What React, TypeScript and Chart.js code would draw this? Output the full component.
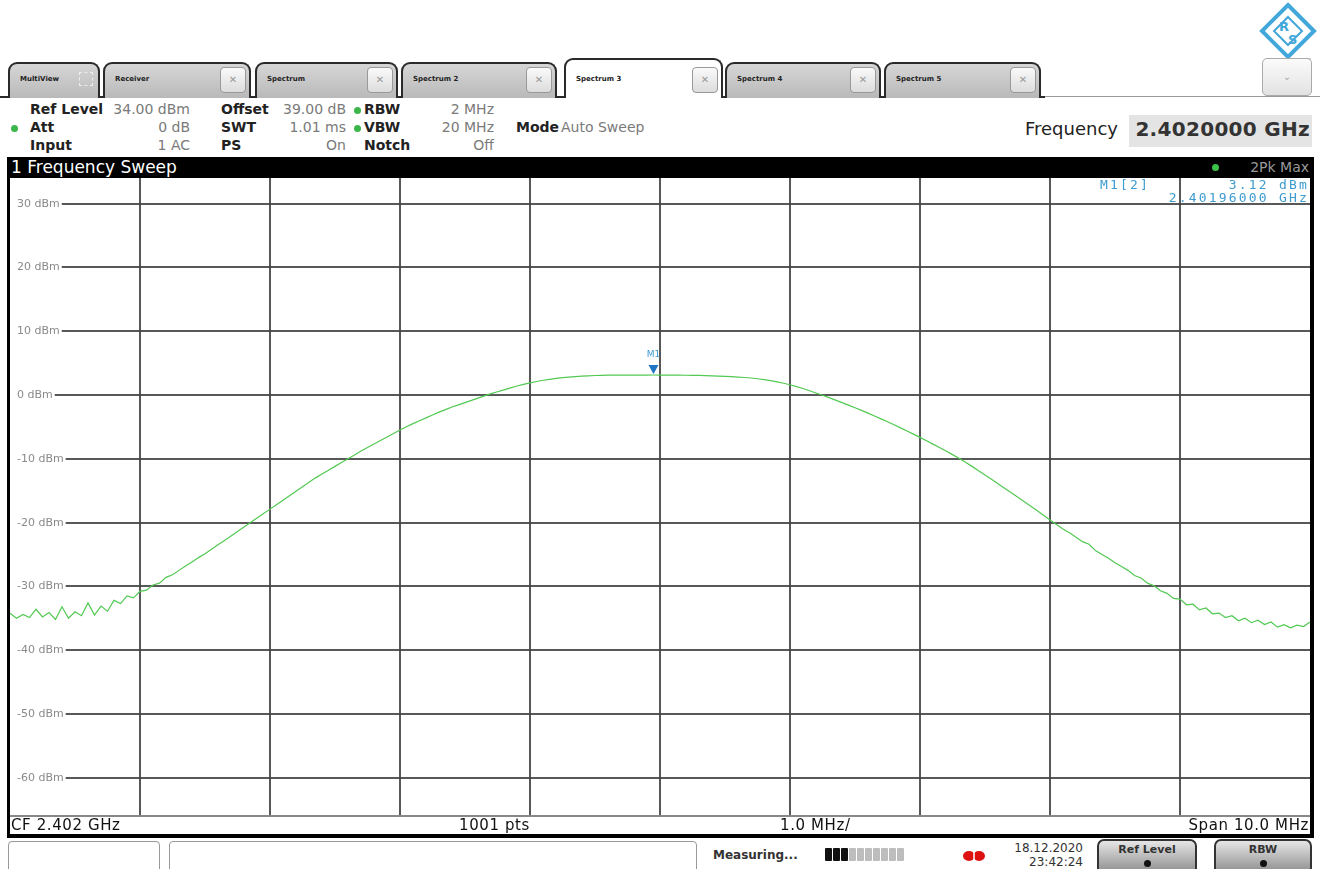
import React, { useEffect, useRef } from "react";
import { Chart, registerables } from "chart.js";

Chart.register(...registerables);

// ---- data ----
const startMHz = 2397; // CF 2.402 GHz, span 10 MHz
const stepMHz = 0.05;
const levelDbm = [
  -34.2, -35.0, -34.4, -34.9, -33.6, -34.8, -34.1, -35.2, -33.2, -35.0,
  -34.0, -34.6, -32.6, -34.5, -33.1, -33.9, -32.2, -32.7, -31.5, -31.8,
  -30.8, -30.6, -29.8, -29.5, -28.6, -28.2, -27.5, -26.8, -26.2, -25.5,
  -24.9, -24.2, -23.5, -22.8, -22.1, -21.4, -20.7, -20.0, -19.3, -18.6,
  -17.9, -17.2, -16.5, -15.8, -15.1, -14.4, -13.7, -13.0, -12.4, -11.8,
  -11.2, -10.6, -10.0, -9.4, -8.8, -8.25, -7.7, -7.15, -6.6, -6.05,
  -5.5, -5.0, -4.5, -4.05, -3.6, -3.15, -2.7, -2.3, -1.9, -1.55,
  -1.2, -0.85, -0.5, -0.15, 0.2, 0.5, 0.8, 1.1, 1.4, 1.65,
  1.9, 2.1, 2.3, 2.45, 2.6, 2.7, 2.8, 2.88, 2.95, 3.0,
  3.04, 3.07, 3.09, 3.1, 3.1, 3.11, 3.11, 3.11, 3.11, 3.12,
  3.11, 3.11, 3.1, 3.09, 3.08, 3.06, 3.05, 3.02, 3.0, 2.96,
  2.92, 2.86, 2.8, 2.73, 2.65, 2.53, 2.4, 2.23, 2.05, 1.83,
  1.6, 1.3, 1.0, 0.65, 0.3, -0.05, -0.43, -0.81, -1.2, -1.6,
  -2.01, -2.43, -2.86, -3.3, -3.75, -4.21, -4.68, -5.16, -5.65, -6.15,
  -6.66, -7.18, -7.71, -8.25, -8.8, -9.36, -9.93, -10.55, -11.2, -11.87,
  -12.55, -13.23, -13.92, -14.61, -15.3, -16.0, -16.7, -17.4, -18.1, -18.85,
  -19.6, -20.3, -21.0, -21.6, -22.3, -23.0, -23.4, -24.4, -25.0, -25.6,
  -26.3, -26.9, -27.5, -28.3, -28.7, -29.5, -29.9, -30.7, -31.1, -31.9,
  -32.0, -32.9, -32.8, -33.7, -33.4, -34.3, -34.2, -34.9, -34.6, -35.4,
  -35.0, -35.7, -35.3, -36.0, -35.6, -36.4, -36.0, -36.5, -36.1, -36.3,
  -35.6,
];
const yMin = -66;
const yMax = 34;
const yTicks = [30, 20, 10, 0, -10, -20, -30, -40, -50, -60];
const xTicks = [2398, 2399, 2400, 2401, 2402, 2403, 2404, 2405, 2406];
const markerIndex = 99;
const markerName = "M1";

const tabs = [
  { label: "MultiView", left: 8, width: 92, close: false, active: false },
  { label: "Receiver", left: 103, width: 148, close: true, active: false },
  { label: "Spectrum", left: 255, width: 143, close: true, active: false },
  { label: "Spectrum 2", left: 401, width: 156, close: true, active: false },
  { label: "Spectrum 3", left: 564, width: 159, close: true, active: true },
  { label: "Spectrum 4", left: 725, width: 156, close: true, active: false },
  { label: "Spectrum 5", left: 884, width: 157, close: true, active: false },
];

const SANS = '"DejaVu Sans", Verdana, sans-serif';
const MONO = '"DejaVu Sans Mono", monospace';
const BLUE = "#3d9bd0";

const saPlugin = {
  id: "saGrid",
  beforeDatasetsDraw(chart: any) {
    const { ctx, chartArea: a, scales } = chart;
    const x = scales.x;
    const y = scales.y;
    ctx.save();
    ctx.strokeStyle = "rgba(70,70,70,0.9)";
    ctx.lineWidth = 2;
    for (const v of xTicks) {
      const px = Math.round(x.getPixelForValue(v));
      ctx.beginPath();
      ctx.moveTo(px, a.top);
      ctx.lineTo(px, a.bottom);
      ctx.stroke();
    }
    ctx.font = `11px ${SANS}`;
    ctx.textBaseline = "middle";
    ctx.fillStyle = "#8a8a8a";
    for (const v of yTicks) {
      const py = Math.round(y.getPixelForValue(v));
      const label = `${v} dBm`;
      const tx = a.left + 7;
      ctx.fillText(label, tx, py);
      const w = ctx.measureText(label).width;
      ctx.beginPath();
      ctx.moveTo(tx + w + 2, py);
      ctx.lineTo(a.right, py);
      ctx.stroke();
    }
    ctx.restore();
  },
  afterDatasetsDraw(chart: any) {
    const { ctx, scales } = chart;
    const px = scales.x.getPixelForValue(startMHz + markerIndex * stepMHz);
    const py = scales.y.getPixelForValue(levelDbm[markerIndex]);
    ctx.save();
    ctx.fillStyle = "#1f74c4";
    ctx.beginPath();
    ctx.moveTo(px - 5, py - 10);
    ctx.lineTo(px + 5, py - 10);
    ctx.lineTo(px, py - 1);
    ctx.closePath();
    ctx.fill();
    ctx.fillStyle = BLUE;
    ctx.font = `9px ${SANS}`;
    ctx.textAlign = "center";
    ctx.textBaseline = "middle";
    ctx.fillText(markerName, px, py - 20);
    ctx.restore();
  },
};

function SpectrumCanvas() {
  const ref = useRef<HTMLCanvasElement | null>(null);
  useEffect(() => {
    if (!ref.current) return;
    const points = levelDbm.map((v, i) => ({ x: startMHz + i * stepMHz, y: v }));
    const chart = new Chart(ref.current, {
      type: "line",
      data: {
        datasets: [
          {
            data: points,
            borderColor: "#52c952",
            borderWidth: 1.2,
            pointRadius: 0,
            tension: 0,
            fill: false,
          },
        ],
      },
      options: {
        animation: false,
        responsive: false,
        maintainAspectRatio: false,
        layout: { padding: 0 },
        plugins: { legend: { display: false }, tooltip: { enabled: false } },
        scales: {
          x: { type: "linear", min: startMHz, max: startMHz + 10, display: false },
          y: { type: "linear", min: yMin, max: yMax, display: false },
        },
      },
      plugins: [saPlugin],
    } as any);
    return () => chart.destroy();
  }, []);
  return (
    <canvas
      ref={ref}
      width={1300}
      height={638}
      style={{ position: "absolute", left: 10, top: 178, width: 1300, height: 638 }}
    />
  );
}

function Abs({ l, t, r, children, style }: any) {
  const s: any = { position: "absolute", top: t, whiteSpace: "nowrap", ...style };
  if (l !== undefined) s.left = l;
  if (r !== undefined) s.right = 1320 - r;
  return <div style={s}>{children}</div>;
}

function Dot({ l, t }: any) {
  return (
    <div
      style={{
        position: "absolute",
        left: l,
        top: t,
        width: 7,
        height: 7,
        borderRadius: 4,
        background: "#3cb54a",
      }}
    />
  );
}

function Tab({ tab }: any) {
  const top = tab.active ? 58 : 62;
  return (
    <div
      style={{
        position: "absolute",
        left: tab.left,
        top,
        width: tab.width,
        height: 98 - top,
        boxSizing: "border-box",
        border: "2px solid #2a2a2a",
        borderBottom: "none",
        borderRadius: "9px 9px 0 0",
        background: tab.active ? "#fff" : "linear-gradient(#d6d6d6, #b9b9b9)",
      }}
    >
      <div
        style={{
          position: "absolute",
          left: 10,
          top: tab.active ? 15 : 11,
          font: `bold 7px ${SANS}`,
          color: "#222",
        }}
      >
        {tab.label}
      </div>
      {tab.close ? (
        <div
          style={{
            position: "absolute",
            right: 3,
            top: tab.active ? 7 : 3,
            width: 26,
            height: 26,
            boxSizing: "border-box",
            border: "1px solid #999",
            borderRadius: 4,
            background: "linear-gradient(#fafafa,#dcdcdc)",
            color: "#999",
            font: `10px ${SANS}`,
            textAlign: "center",
            lineHeight: "24px",
          }}
        >
          ✕
        </div>
      ) : (
        <div
          style={{
            position: "absolute",
            right: 5,
            top: 8,
            width: 12,
            height: 12,
            border: "1px dashed #eee",
          }}
        />
      )}
    </div>
  );
}

export default function App() {
  const lab = { font: `bold 14px ${SANS}`, color: "#222" };
  const val = { font: `14px ${SANS}`, color: "#7a7a7a" };
  const info = { font: `15px ${SANS}`, color: "#111", letterSpacing: "0.6px" };
  const mk = { font: `13px ${MONO}`, color: BLUE, letterSpacing: "2.2px", lineHeight: "15px" };
  return (
    <div
      style={{
        position: "absolute",
        left: 0,
        top: 0,
        width: 1320,
        height: 869,
        overflow: "hidden",
        background: "#fff",
        fontFamily: SANS,
      }}
    >
      {/* logo */}
      <svg style={{ position: "absolute", left: 1259, top: 2 }} width="58" height="58">
        <polygon points="29,3 55,29 29,55 3,29" fill="none" stroke="#42a7da" strokeWidth="4" />
        <polygon points="29,15 43,29 29,43 15,29" fill="none" stroke="#42a7da" strokeWidth="2" />
        <text x="20" y="29" fontSize="13" fill="#42a7da" fontFamily={SANS} fontWeight="bold">R</text>
        <text x="29" y="42" fontSize="13" fill="#42a7da" fontFamily={SANS} fontWeight="bold">S</text>
        <line x1="8" y1="57" x2="52" y2="57" stroke="#999" strokeWidth="1" />
      </svg>

      {/* tabs */}
      <div style={{ position: "absolute", left: 0, top: 96, width: 1045, height: 2, background: "#2a2a2a" }} />
      <div style={{ position: "absolute", left: 1045, top: 96, width: 275, height: 1, background: "#999" }} />
      {tabs.map((t) => (
        <Tab key={t.label} tab={t} />
      ))}
      <div
        style={{
          position: "absolute",
          left: 1262,
          top: 58,
          width: 50,
          height: 38,
          boxSizing: "border-box",
          border: "1px solid #aaa",
          borderRadius: 5,
          background: "linear-gradient(#fbfbfb,#e2e2e2)",
          color: "#aaa",
          textAlign: "center",
          font: `10px ${SANS}`,
          lineHeight: "36px",
        }}
      >
        ⌄
      </div>

      {/* header parameters */}
      <Abs l={30} t={101} style={lab}>Ref Level</Abs>
      <Abs r={190} t={101} style={val}>34.00 dBm</Abs>
      <Abs l={221} t={101} style={lab}>Offset</Abs>
      <Abs r={346} t={101} style={val}>39.00 dB</Abs>
      <Dot l={354} t={107} />
      <Abs l={364} t={101} style={lab}>RBW</Abs>
      <Abs r={494} t={101} style={val}>2 MHz</Abs>

      <Dot l={11} t={125} />
      <Abs l={30} t={119} style={lab}>Att</Abs>
      <Abs r={190} t={119} style={val}>0 dB</Abs>
      <Abs l={221} t={119} style={lab}>SWT</Abs>
      <Abs r={346} t={119} style={val}>1.01 ms</Abs>
      <Dot l={354} t={125} />
      <Abs l={364} t={119} style={lab}>VBW</Abs>
      <Abs r={494} t={119} style={val}>20 MHz</Abs>
      <Abs l={516} t={119} style={lab}>Mode</Abs>
      <Abs l={561} t={119} style={val}>Auto Sweep</Abs>

      <Abs l={30} t={137} style={lab}>Input</Abs>
      <Abs r={190} t={137} style={val}>1 AC</Abs>
      <Abs l={221} t={137} style={lab}>PS</Abs>
      <Abs r={346} t={137} style={val}>On</Abs>
      <Abs l={364} t={137} style={lab}>Notch</Abs>
      <Abs r={494} t={137} style={val}>Off</Abs>

      <Abs l={1025} t={118} style={{ font: `18px ${SANS}`, color: "#222" }}>Frequency</Abs>
      <div
        style={{
          position: "absolute",
          left: 1129,
          top: 115,
          width: 183,
          height: 32,
          background: "#e4e4e4",
        }}
      />
      <Abs r={1310} t={117} style={{ font: `bold 20px ${SANS}`, color: "#333", letterSpacing: "0.3px" }}>
        2.4020000 GHz
      </Abs>

      {/* diagram frame */}
      <div style={{ position: "absolute", left: 7, top: 157, width: 1307, height: 21, background: "#000" }} />
      <Abs l={11} t={157} style={{ font: `17px ${SANS}`, color: "#fff", lineHeight: "21px" }}>
        1 Frequency Sweep
      </Abs>
      <div style={{ position: "absolute", left: 1212, top: 164, width: 7, height: 7, borderRadius: 4, background: "#3cc24a" }} />
      <Abs r={1309} t={157} style={{ font: `14px ${SANS}`, color: "#9a9a9a", lineHeight: "21px" }}>
        2Pk Max
      </Abs>
      <div style={{ position: "absolute", left: 7, top: 157, width: 3, height: 681, background: "#000" }} />
      <div style={{ position: "absolute", left: 1310, top: 157, width: 4, height: 681, background: "#000" }} />
      <div style={{ position: "absolute", left: 7, top: 834, width: 1307, height: 4, background: "#000" }} />

      <SpectrumCanvas />

      {/* marker table */}
      <Abs l={1100} t={177} style={mk}>M1[2]</Abs>
      <Abs r={1309} t={177} style={mk}>3.12 dBm</Abs>
      <Abs r={1309} t={190} style={mk}>2.40196000 GHz</Abs>

      {/* bottom info row */}
      <div style={{ position: "absolute", left: 10, top: 815, width: 1300, height: 2, background: "#888" }} />
      <Abs l={11} t={816} style={info}>CF 2.402 GHz</Abs>
      <Abs l={459} t={816} style={info}>1001 pts</Abs>
      <Abs l={780} t={816} style={info}>1.0 MHz/</Abs>
      <Abs r={1309} t={816} style={info}>Span 10.0 MHz</Abs>

      {/* status bar */}
      <div
        style={{
          position: "absolute",
          left: 8,
          top: 841,
          width: 152,
          height: 34,
          boxSizing: "border-box",
          border: "1px solid #999",
          borderRadius: 4,
          background: "#fff",
        }}
      />
      <div
        style={{
          position: "absolute",
          left: 169,
          top: 841,
          width: 528,
          height: 34,
          boxSizing: "border-box",
          border: "1px solid #999",
          borderRadius: 4,
          background: "#fff",
        }}
      />
      <Abs l={713} t={848} style={{ font: `bold 12px ${SANS}`, color: "#333" }}>Measuring...</Abs>
      <div style={{ position: "absolute", left: 825, top: 848, display: "flex", gap: 1 }}>
        {[0, 1, 2, 3, 4, 5, 6, 7, 8, 9].map((i) => (
          <div
            key={i}
            style={{ width: 7, height: 13, background: i < 3 ? "#111" : "#bdbdbd", borderRadius: 1 }}
          />
        ))}
      </div>
      <svg style={{ position: "absolute", left: 962, top: 848 }} width="24" height="14">
        <ellipse cx="7" cy="8" rx="6" ry="5" fill="#d11" />
        <ellipse cx="17" cy="8" rx="6" ry="5" fill="#d11" />
        <line x1="12" y1="1" x2="12" y2="13" stroke="#fff" strokeWidth="1.5" />
      </svg>
      <Abs r={1083} t={841} style={{ font: `12px ${SANS}`, color: "#333" }}>18.12.2020</Abs>
      <Abs r={1083} t={855} style={{ font: `12px ${SANS}`, color: "#333" }}>23:42:24</Abs>
      {[
        { label: "Ref Level", left: 1097, width: 100 },
        { label: "RBW", left: 1214, width: 98 },
      ].map((b) => (
        <div
          key={b.label}
          style={{
            position: "absolute",
            left: b.left,
            top: 839,
            width: b.width,
            height: 36,
            boxSizing: "border-box",
            border: "2px solid #333",
            borderRadius: 7,
            background: "linear-gradient(#e6e6e6, #8c8c8c)",
            textAlign: "center",
          }}
        >
          <div style={{ font: `bold 11px ${SANS}`, color: "#333", marginTop: 2 }}>{b.label}</div>
          <div
            style={{
              width: 7,
              height: 7,
              borderRadius: 4,
              background: "#111",
              margin: "4px auto 0",
            }}
          />
        </div>
      ))}
    </div>
  );
}
